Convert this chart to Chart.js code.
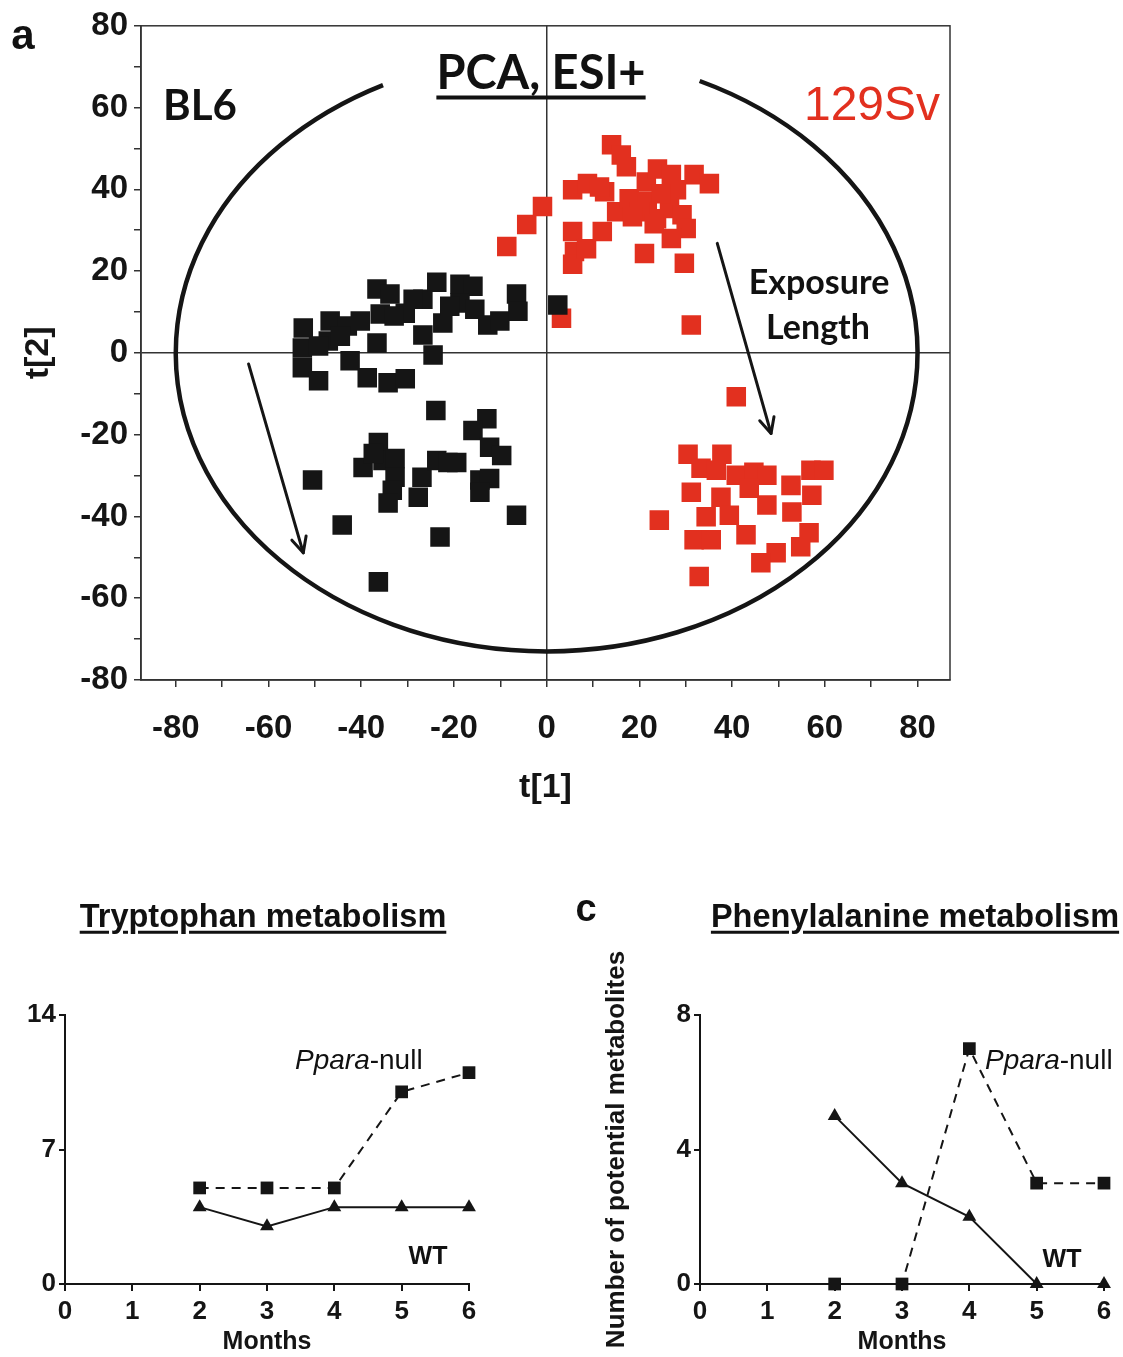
<!DOCTYPE html>
<html><head><meta charset="utf-8">
<script src="https://cdn.jsdelivr.net/npm/chart.js@4.4.1/dist/chart.umd.min.js"></script>
<style>
html,body{margin:0;padding:0;background:#fff;}
body{width:1123px;height:1357px;position:relative;overflow:hidden;font-family:"Liberation Sans",Arial,sans-serif;color:#111;}
canvas{position:absolute;}
.t{position:absolute;white-space:nowrap;line-height:1;transform:translate(-50%,-50%);}
.l{position:absolute;white-space:nowrap;line-height:1;transform:translate(0,-50%);}
.cal{font-family:Lato,"Open Sans",sans-serif;font-weight:700;}
</style></head><body>
<canvas id="pca" width="1123" height="830" style="left:0;top:0"></canvas>
<canvas id="trp" width="560" height="497" style="left:0;top:860px"></canvas>
<canvas id="phe" width="563" height="497" style="left:560px;top:860px"></canvas>

<div class="t" style="left:23px;top:35px;font-size:42px;font-weight:700">a</div>
<div class="t cal" style="left:541px;top:71px;font-size:47px;text-decoration:underline;text-decoration-thickness:4px;text-underline-offset:7px">PCA, ESI+</div>
<div class="t cal" style="left:200px;top:104px;font-size:42px">BL6</div>
<div class="t" style="left:872px;top:104px;font-size:48px;color:#e2301f">129Sv</div>
<div class="t cal" style="left:819px;top:281px;font-size:34px">Exposure</div>
<div class="t cal" style="left:818px;top:326px;font-size:34px">Length</div>

<div class="t" style="left:263px;top:916px;font-size:32.5px;font-weight:700;text-decoration:underline;text-decoration-thickness:3px;text-underline-offset:4px">Tryptophan metabolism</div>
<div class="t" style="left:586px;top:908px;font-size:38px;font-weight:700">c</div>
<div class="t" style="left:915px;top:916px;font-size:32.5px;font-weight:700;text-decoration:underline;text-decoration-thickness:3px;text-underline-offset:4px">Phenylalanine metabolism</div>
<div class="l" style="left:295px;top:1060px;font-size:28px"><i>Ppara</i>-null</div>
<div class="l" style="left:985px;top:1060px;font-size:28px"><i>Ppara</i>-null</div>
<div class="t" style="left:428px;top:1255px;font-size:25px;font-weight:700">WT</div>
<div class="t" style="left:1062px;top:1258px;font-size:25px;font-weight:700">WT</div>

<script>
// ---------- Panel a: PCA scores (t[1], t[2]) ----------
const bl6Scores = [
  [-52.5,6.1],[-52.7,1.2],[-52.7,-3.6],[-49.2,-6.8],[-46.7,7.8],[-47.1,2.9],[-43.0,6.6],[-40.2,7.8],
  [-36.6,15.6],[-33.8,14.4],[-35.9,9.5],[-36.6,2.4],[-42.4,-1.9],[-38.7,-6.1],[-34.2,-7.3],[-30.5,-6.3],
  [-30.5,9.7],[-26.7,13.1],[-23.7,17.3],[-26.7,4.4],[-24.5,-0.5],[-22.4,7.3],[-18.7,16.8],[-15.9,16.3],
  [-18.7,12.2],[-15.5,10.7],[-12.7,6.8],[-10.1,7.8],[-6.5,14.4],[-6.2,10.2],[2.4,11.7],[-44.5,4.1],
  [-32.9,9.0],[-20.9,11.4],[-49.2,1.7],[-28.8,13.1],
  [-23.9,-14.1],[-12.9,-16.1],[-15.9,-19.0],[-12.3,-23.1],[-9.7,-25.1],[-50.5,-31.1],[-36.3,-21.9],
  [-39.6,-28.0],[-35.3,-26.3],[-32.7,-25.8],[-32.7,-30.4],[-33.3,-33.6],[-34.2,-36.7],[-27.7,-35.3],
  [-26.9,-30.4],[-23.7,-26.3],[-19.4,-26.8],[-14.4,-31.1],[-12.3,-30.7],[-14.4,-34.1],[-6.5,-39.7],
  [-44.1,-42.1],[-23.0,-45.0],[-36.3,-56.0],[-21.3,-26.8],[-37.4,-24.6]
];
const sv129Scores = [
  [-8.6,26.0],[-4.3,31.4],[-0.9,35.8],[5.6,39.9],[8.8,41.4],[12.5,39.4],[14.0,50.9],[16.1,48.4],
  [17.2,45.5],[5.6,29.7],[6.0,24.8],[5.6,21.7],[8.6,25.5],[12.0,29.7],[15.1,34.5],[17.8,37.7],
  [21.5,41.8],[23.9,45.0],[26.9,43.6],[21.7,37.0],[23.7,32.8],[26.5,35.3],[29.2,33.8],[30.1,30.4],
  [26.9,28.0],[21.1,24.3],[29.7,21.9],[31.8,43.6],[35.1,41.4],[31.2,6.8],[3.2,8.5],[20.0,34.5],
  [28.0,39.9],[18.5,33.3],[24.7,38.9],[23.2,31.6],[11.4,40.6],
  [40.9,-10.7],[30.5,-24.8],[37.8,-24.8],[33.3,-28.2],[36.6,-28.7],[40.9,-29.9],[44.7,-29.2],
  [47.5,-29.9],[43.7,-33.1],[47.5,-37.2],[31.2,-34.1],[37.6,-35.3],[34.4,-40.1],[39.4,-39.7],
  [43.0,-44.5],[31.8,-45.7],[35.5,-45.7],[24.3,-40.9],[32.9,-54.7],[52.7,-32.4],[57.2,-34.8],
  [57.0,-28.7],[59.8,-28.7],[52.9,-38.9],[56.6,-44.0],[54.8,-47.4],[49.5,-48.9],[46.2,-51.3]
];
const pcaXTicks = [-80,-70,-60,-50,-40,-30,-20,-10,0,10,20,30,40,50,60,70,80];
const pcaYTicks = [-80,-70,-60,-50,-40,-30,-20,-10,0,10,20,30,40,50,60,70,80];
const ellipseRadii = [80, 73];           // Hotelling ellipse semi-axes (t[1], t[2])
const ellipseGapX = [-35.3, 33.0];       // opening at the top for the title
const exposureArrows = [
  [[-64.3,-2.7],[-52.5,-48.9]],
  [[36.8,26.8],[48.4,-19.7]]
];

// ---------- Panels b / c ----------
const months = [2,3,4,5,6];
const trpNull = [5,5,5,10,11];
const trpWT = [4,3,4,4,4];
const pheNull = [0,0,7,3,3];
const pheWT = [5,3,2,0,0];
const monthTicks = [0,1,2,3,4,5,6];
const trpYTicks = [0,7,14];
const pheYTicks = [0,4,8];

const INK = '#151515';
const RED = '#e2301f';
const AX_FONT = {family:'"Liberation Sans", Arial, sans-serif', weight:'bold'};

const framePlugin = {
  id:'frame',
  afterDraw(chart){
    const {ctx, chartArea:a} = chart;
    ctx.save(); ctx.strokeStyle = '#333'; ctx.lineWidth = 1.5;
    ctx.strokeRect(a.left, a.top, a.right-a.left, a.bottom-a.top);
    ctx.restore();
  }
};
const ellipsePlugin = {
  id:'ellipse',
  afterDatasetsDraw(chart){
    const {ctx, scales:{x,y}} = chart;
    const cx = x.getPixelForValue(0), cy = y.getPixelForValue(0);
    const rx = x.getPixelForValue(ellipseRadii[0]) - cx;
    const ry = cy - y.getPixelForValue(ellipseRadii[1]);
    const ang = v => { const c = v/ellipseRadii[0]; return Math.atan2(-Math.sqrt(1-c*c), c); };
    const a0 = ang(ellipseGapX[1]), a1 = ang(ellipseGapX[0]) + 2*Math.PI;
    ctx.save(); ctx.strokeStyle = INK; ctx.lineWidth = 4.5;
    ctx.beginPath(); ctx.ellipse(cx, cy, rx, ry, 0, a0, a1, false); ctx.stroke();
    // arrows
    ctx.lineWidth = 3; ctx.lineCap = 'round'; ctx.lineJoin = 'round';
    exposureArrows.forEach(([p,q])=>{
      const x0 = x.getPixelForValue(p[0]), y0 = y.getPixelForValue(p[1]);
      const x1 = x.getPixelForValue(q[0]), y1 = y.getPixelForValue(q[1]);
      const th = Math.atan2(y1-y0, x1-x0), L = 17, w = 0.45;
      ctx.beginPath(); ctx.moveTo(x0,y0); ctx.lineTo(x1,y1); ctx.stroke();
      ctx.beginPath();
      ctx.moveTo(x1 - L*Math.cos(th-w), y1 - L*Math.sin(th-w));
      ctx.lineTo(x1,y1);
      ctx.lineTo(x1 - L*Math.cos(th+w), y1 - L*Math.sin(th+w));
      ctx.stroke();
    });
    ctx.restore();
  }
};

new Chart(document.getElementById('pca'), {
  type:'scatter',
  data:{datasets:[
    {label:'BL6', data:bl6Scores.map(([a,b])=>({x:a,y:b})), pointStyle:'rect', pointRadius:13.8, pointHoverRadius:13.8, backgroundColor:INK, borderWidth:0},
    {label:'129Sv', data:sv129Scores.map(([a,b])=>({x:a,y:b})), pointStyle:'rect', pointRadius:13.8, pointHoverRadius:13.8, backgroundColor:RED, borderWidth:0}
  ]},
  options:{
    responsive:false, animation:false, events:[],
    layout:{padding:{left:0,right:173,top:22,bottom:0}},
    plugins:{legend:{display:false}, tooltip:{enabled:false}},
    scales:{
      x:{type:'linear', min:-87.5, max:87,
        afterBuildTicks:s=>{s.ticks = pcaXTicks.map(v=>({value:v}));},
        afterFit:s=>{s.height = 150;},
        ticks:{autoSkip:false, maxRotation:0, color:INK, padding:22, font:{...AX_FONT, size:33},
          callback:v=> v%20===0 ? String(v) : ''},
        grid:{drawOnChartArea:true, color:c=> (c.tick && c.tick.value===0) ? '#333' : 'rgba(0,0,0,0)', lineWidth:1.5, tickColor:'#333', tickLength:7},
        border:{color:'#333', width:1.5},
        title:{display:true, text:'t[1]', color:INK, font:{...AX_FONT, size:34}, padding:{top:0,bottom:22}}
      },
      y:{type:'linear', min:-80, max:80,
        afterBuildTicks:s=>{s.ticks = pcaYTicks.map(v=>({value:v}));},
        afterFit:s=>{s.width = 141;},
        ticks:{autoSkip:false, color:INK, padding:6, font:{...AX_FONT, size:33},
          callback:v=> v%20===0 ? String(v) : ''},
        grid:{drawOnChartArea:true, color:c=> (c.tick && c.tick.value===0) ? '#333' : 'rgba(0,0,0,0)', lineWidth:1.5, tickColor:'#333', tickLength:7},
        border:{color:'#333', width:1.5},
        title:{display:true, text:'t[2]', color:INK, font:{...AX_FONT, size:34}, padding:{top:18,bottom:0}}
      }
    }
  },
  plugins:[framePlugin, ellipsePlugin]
});

function lineChart(id, nullVals, wtVals, yMax, yTicks, yWidth, padRight, yTitle){
  return new Chart(document.getElementById(id), {
    type:'line',
    data:{datasets:[
      {label:'Ppara-null', data:months.map((m,i)=>({x:m,y:nullVals[i]})), borderColor:INK, borderWidth:2, borderDash:[9,7],
        pointStyle:'rect', pointRadius:9, pointHoverRadius:9, pointBackgroundColor:INK, pointBorderWidth:0, clip:false, tension:0},
      {label:'WT', data:months.map((m,i)=>({x:m,y:wtVals[i]})), borderColor:INK, borderWidth:2,
        pointStyle:'triangle', pointRadius:8, pointHoverRadius:8, pointBackgroundColor:INK, pointBorderWidth:0, clip:false, tension:0}
    ]},
    options:{
      responsive:false, animation:false, events:[],
      layout:{padding:{left:0,right:padRight,top:155,bottom:0}},
      plugins:{legend:{display:false}, tooltip:{enabled:false}},
      scales:{
        x:{type:'linear', min:0, max:6,
          afterBuildTicks:s=>{s.ticks = monthTicks.map(v=>({value:v}));},
          afterFit:s=>{s.height = 73;},
          ticks:{autoSkip:false, maxRotation:0, color:INK, padding:5, font:{...AX_FONT, size:26}},
          grid:{drawOnChartArea:false, tickColor:INK, tickLength:7, lineWidth:2},
          border:{color:INK, width:2},
          title:{display:true, text:'Months', color:INK, font:{...AX_FONT, size:25}, padding:{top:0,bottom:0}}
        },
        y:{type:'linear', min:0, max:yMax,
          afterBuildTicks:s=>{s.ticks = yTicks.map(v=>({value:v}));},
          afterFit:s=>{s.width = yWidth;},
          ticks:{autoSkip:false, color:INK, padding:3, font:{...AX_FONT, size:26}},
          grid:{drawOnChartArea:false, tickColor:INK, tickLength:6, lineWidth:2},
          border:{color:INK, width:2},
          title:{display:!!yTitle, text:yTitle||'', color:INK, font:{...AX_FONT, size:26}, padding:{top:41,bottom:0}}
        }
      }
    }
  });
}
lineChart('trp', trpNull, trpWT, 14, trpYTicks, 65, 91, null);
lineChart('phe', pheNull, pheWT, 8, pheYTicks, 140, 19, 'Number of potential metabolites');
</script>
</body></html>
